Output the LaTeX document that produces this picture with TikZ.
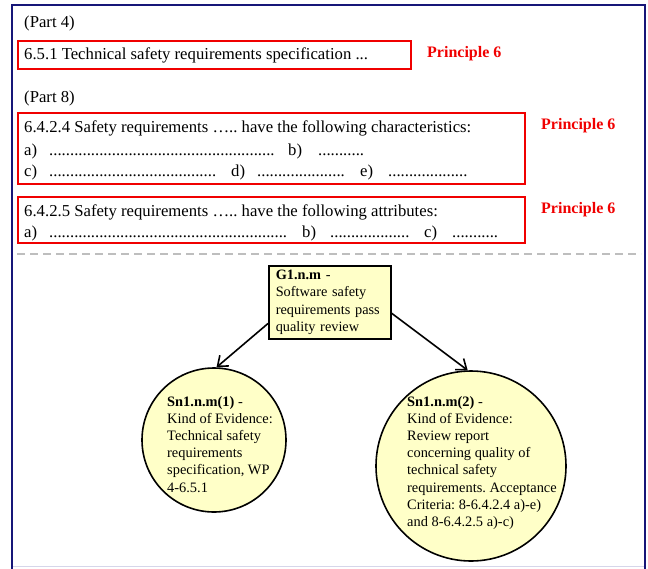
\documentclass[tikz,border=0pt]{standalone}
\usepackage{fontspec}
\setmainfont{Liberation Serif}
\usetikzlibrary{arrows.meta}
\frenchspacing

\definecolor{framenavy}{RGB}{22,22,120}
\definecolor{reqred}{RGB}{240,0,0}
\definecolor{notefill}{RGB}{255,255,200}
\definecolor{sepgray}{RGB}{190,190,190}
\definecolor{edgelav}{RGB}{214,214,234}

% a run of closely set leader dots of the given width (pt)
\newcommand{\dotrun}[1]{\makebox[#1pt]{\leaders\hbox{.}\hfill}}

\begin{document}
\begin{tikzpicture}[x=1pt,y=-1pt,
  clausebox/.style={draw=reqred, line width=2.4pt, anchor=north west, inner sep=0pt},
  bodytext/.style={anchor=base west, inner sep=0pt, font=\fontsize{16.7}{20}\selectfont},
  principle/.style={anchor=base west, inner sep=0pt, text=reqred, font=\fontsize{16}{19}\selectfont\bfseries},
  goalbox/.style={draw=black, fill=notefill, line width=1.5pt, anchor=north west,
    minimum width=122pt, minimum height=73pt, text width=108pt, inner xsep=7pt, inner ysep=0pt,
    align=left, font=\fontsize{14.3}{17.5}\selectfont},
  evidence/.style={circle, draw=black, fill=notefill, line width=1.6pt, inner sep=0pt},
  evtext/.style={anchor=north west, inner sep=0pt, align=left, font=\fontsize{14.4}{17.2}\selectfont},
  link/.style={line width=1.6pt, -{Straight Barb[length=9pt,width=14pt,line width=1.6pt]}}]

\useasboundingbox (0,0) rectangle (648,568);

% outer frame, open at the bottom
\draw[framenavy, line width=2pt] (12,572) -- (12,5) -- (645,5) -- (645,572);
\draw[edgelav, line width=1.5pt] (13,566.5) -- (644,566.5);

% ---- Part 4 ----
\node[bodytext] (p4) at (24,27) {(Part 4)};
\node[clausebox, minimum width=393pt, minimum height=28pt] (b1) at (17,40) {};
\node[bodytext] (b1t) at (24,59) {6.5.1 Technical safety requirements specification ...};
\node[principle] (pr1) at (427,57) {Principle 6};

% ---- Part 8 ----
\node[bodytext] (p8) at (24,102) {(Part 8)};
\node[clausebox, minimum width=507pt, minimum height=71pt] (b2) at (17,112) {};
\node[bodytext] (b2t) at (24,132) {6.4.2.4 Safety requirements \textellipsis.. have the following characteristics:};
\node[bodytext] (b2a) at (24,155) {\makebox[25pt][l]{a)}\dotrun{226}\hspace{13pt}\makebox[30pt][l]{b)}\dotrun{47}};
\node[bodytext] (b2c) at (24,176) {\makebox[25pt][l]{c)}\dotrun{167}\hspace{15pt}\makebox[26pt][l]{d)}\dotrun{91}\hspace{12pt}\makebox[28pt][l]{e)}\dotrun{80}};
\node[principle] (pr2) at (541,129) {Principle 6};

\node[clausebox, minimum width=507pt, minimum height=46pt] (b3) at (17,196) {};
\node[bodytext] (b3t) at (24,216) {6.4.2.5 Safety requirements \textellipsis.. have the following attributes:};
\node[bodytext] (b3a) at (24,237) {\makebox[25pt][l]{a)}\dotrun{239}\hspace{14pt}\makebox[28pt][l]{b)}\dotrun{81}\hspace{13pt}\makebox[28pt][l]{c)}\dotrun{50}};
\node[principle] (pr3) at (541,213) {Principle 6};

% separator
\draw[sepgray, line width=1.8pt, dash pattern=on 8pt off 5pt] (17,254) -- (641,254);

% ---- goal structure ----
\node[goalbox] (g1) at (268,265) {\textbf{G1.n.m} -\\Software safety\\requirements pass\\quality review};

\node[evidence, minimum size=144pt] (c1) at (214,440) {};
\node[evtext] (c1t) at (167,396) {\textbf{Sn1.n.m(1)} -\\Kind of Evidence:\\Technical safety\\requirements\\specification, WP\\4-6.5.1};

\node[evidence, minimum size=190pt] (c2) at (471,466) {};
\node[evtext] (c2t) at (407,396) {\textbf{Sn1.n.m(2)} -\\Kind of Evidence:\\Review report\\concerning quality of\\technical safety\\requirements. Acceptance\\Criteria: 8-6.4.2.4 a)-e)\\and 8-6.4.2.5 a)-c)};

\draw[link] (g1.199) -- (c1.88);
\draw[link] (g1.-10) -- (c2.92);

\end{tikzpicture}
\end{document}
